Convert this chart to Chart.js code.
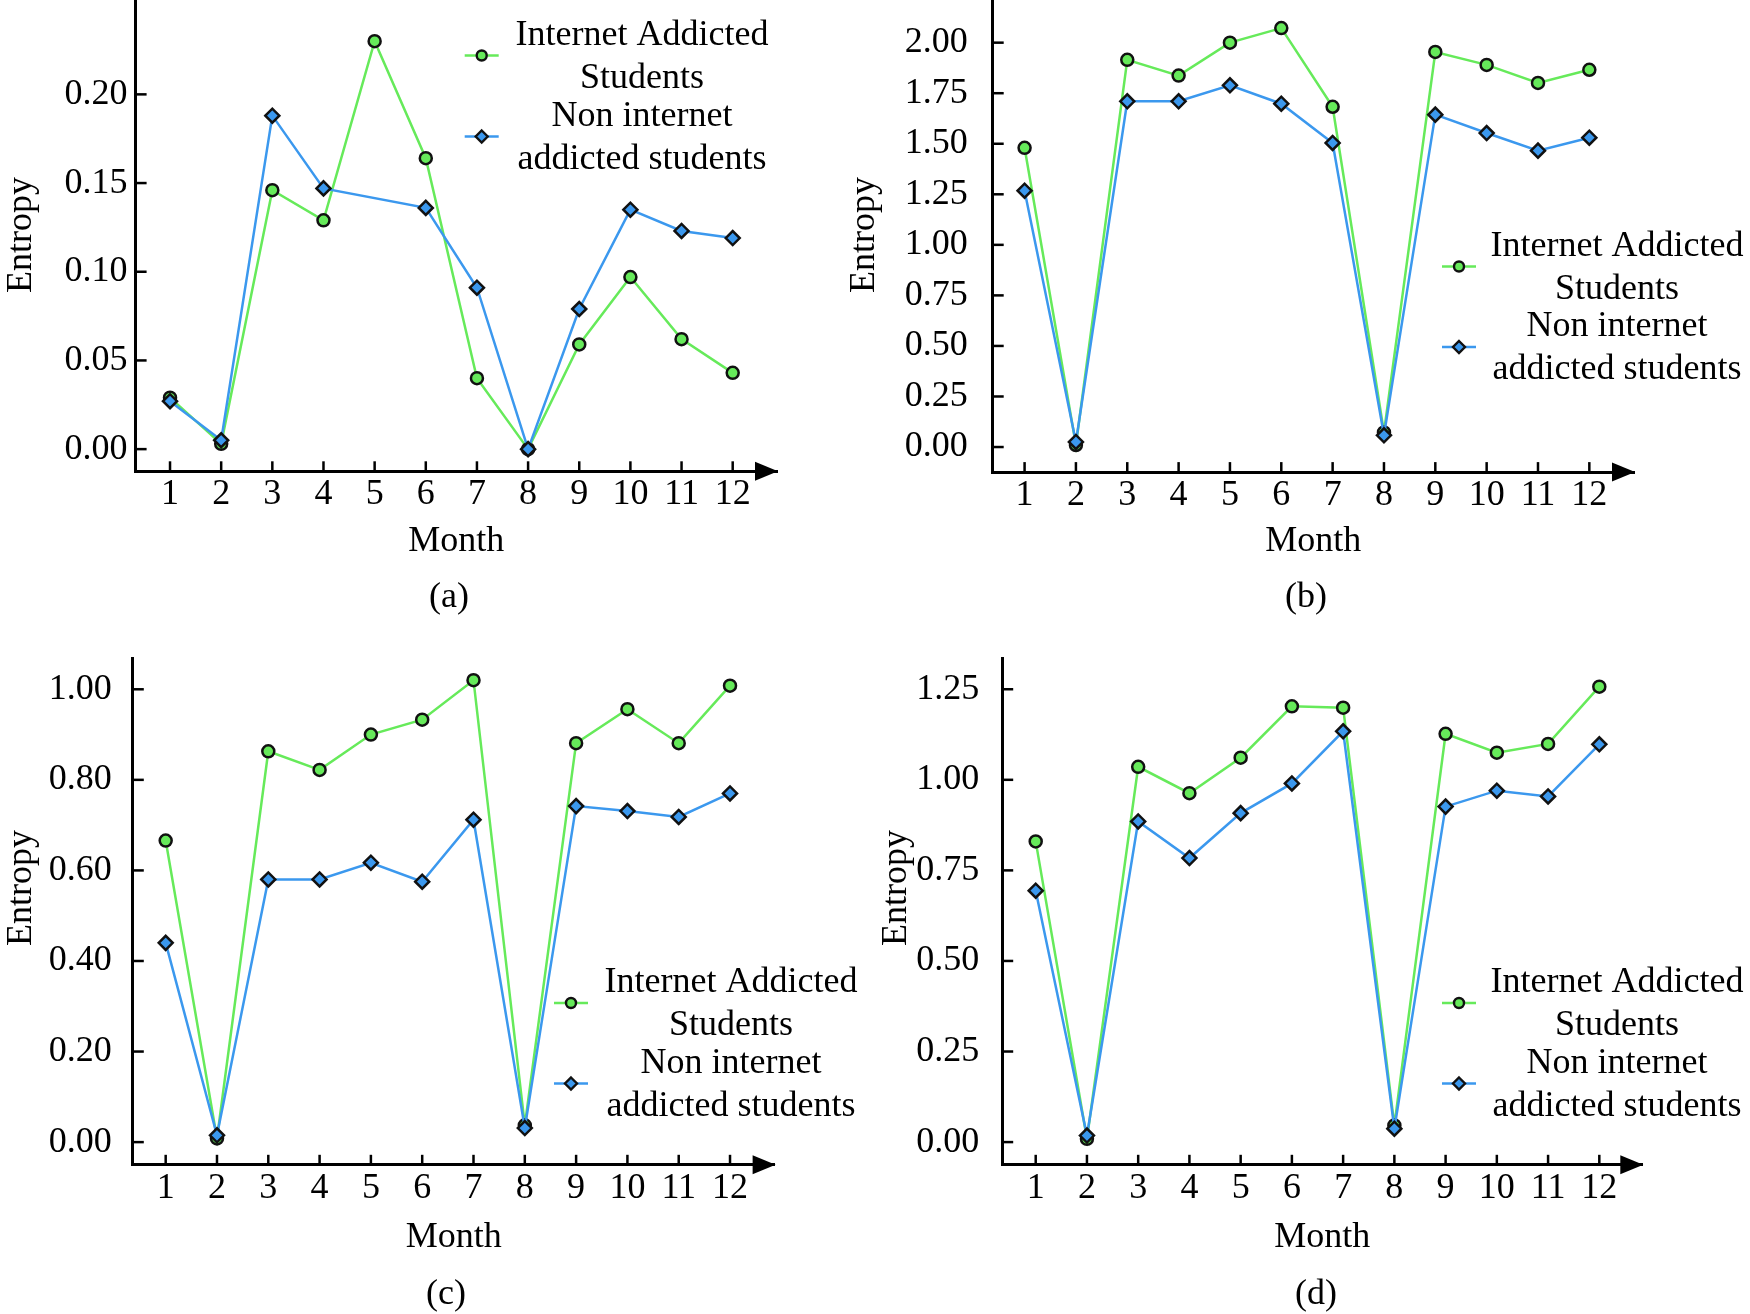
<!DOCTYPE html>
<html>
<head>
<meta charset="utf-8">
<script src="https://cdn.jsdelivr.net/npm/chart.js@4.4.1/dist/chart.umd.min.js"></script>
<style>
html,body{margin:0;padding:0;background:#fff;}
#wrap{position:relative;width:1750px;height:1314px;overflow:hidden;background:#fff;}
canvas{position:absolute;}
.cap{position:absolute;font-family:'Liberation Serif','Times New Roman',serif;font-size:36px;line-height:1;transform:translate(-50%,-50%);white-space:nowrap;color:#000;}
</style>
</head>
<body>
<div id="wrap">
  <canvas id="chartA"></canvas>
  <canvas id="chartB"></canvas>
  <canvas id="chartC"></canvas>
  <canvas id="chartD"></canvas>
  <div class="cap" style="left:449px;top:595px">(a)</div>
  <div class="cap" style="left:1306px;top:595px">(b)</div>
  <div class="cap" style="left:446px;top:1292px">(c)</div>
  <div class="cap" style="left:1316px;top:1292px">(d)</div>
</div>
<script>
// ---------- data ----------
const months = [1, 2, 3, 4, 5, 6, 7, 8, 9, 10, 11, 12];
const seriesNames = ['Internet Addicted Students', 'Non internet addicted students'];
const legendLines = [['Internet Addicted', 'Students'], ['Non internet', 'addicted students']];
const xTitle = 'Month';
const yTitle = 'Entropy';

// (a)
const addictedA    = [0.029, 0.003, 0.146, 0.129, 0.230, 0.164, 0.040, 0.000, 0.059, 0.097, 0.062, 0.043];
const nonAddictedA = [0.027, 0.005, 0.188, 0.147, null, 0.136, 0.091, 0.000, 0.079, 0.135, 0.123, 0.119];
const yTicksA = [0.00, 0.05, 0.10, 0.15, 0.20];
// (b)
const addictedB    = [1.480, 0.010, 1.915, 1.837, 2.000, 2.072, 1.683, 0.072, 1.954, 1.890, 1.801, 1.866];
const nonAddictedB = [1.268, 0.025, 1.710, 1.710, 1.789, 1.698, 1.504, 0.058, 1.644, 1.553, 1.466, 1.530];
const yTicksB = [0.00, 0.25, 0.50, 0.75, 1.00, 1.25, 1.50, 1.75, 2.00];
// (c)
const addictedC    = [0.666, 0.008, 0.863, 0.822, 0.900, 0.933, 1.020, 0.037, 0.881, 0.956, 0.881, 1.008];
const nonAddictedC = [0.440, 0.015, 0.580, 0.580, 0.617, 0.575, 0.712, 0.031, 0.742, 0.731, 0.718, 0.770];
const yTicksC = [0.00, 0.20, 0.40, 0.60, 0.80, 1.00];
// (d)
const addictedD    = [0.830, 0.009, 1.036, 0.963, 1.061, 1.203, 1.199, 0.046, 1.127, 1.075, 1.099, 1.257];
const nonAddictedD = [0.694, 0.018, 0.885, 0.784, 0.908, 0.990, 1.134, 0.037, 0.926, 0.970, 0.954, 1.098];
const yTicksD = [0.00, 0.25, 0.50, 0.75, 1.00, 1.25];

// ---------- style / layout ----------
const GREEN = '#66ea5a';
const BLUE = '#3b98ee';
const FONT = "'Liberation Serif', 'Times New Roman', serif";
const FS = 36;

const decorPlugin = {
  id: 'decor',
  afterDraw(chart) {
    const o = chart.options.plugins.decor;
    if (!o) return;
    const ctx = chart.ctx;
    const ca = chart.chartArea;
    const xs = chart.scales.x, ys = chart.scales.y;
    ctx.save();
    // inward ticks
    ctx.strokeStyle = '#000';
    ctx.lineWidth = 2.5;
    xs.ticks.forEach(t => {
      const px = xs.getPixelForValue(t.value);
      ctx.beginPath(); ctx.moveTo(px, ca.bottom); ctx.lineTo(px, ca.bottom - 10); ctx.stroke();
    });
    ys.ticks.forEach(t => {
      const py = ys.getPixelForValue(t.value);
      ctx.beginPath(); ctx.moveTo(ca.left, py); ctx.lineTo(ca.left + 11, py); ctx.stroke();
    });
    // arrow head on x axis
    ctx.fillStyle = '#000';
    ctx.beginPath();
    ctx.moveTo(ca.right + 1, ca.bottom);
    ctx.lineTo(ca.right - 22, ca.bottom - 9.5);
    ctx.lineTo(ca.right - 22, ca.bottom + 9.5);
    ctx.closePath();
    ctx.fill();
    // y title
    ctx.font = FS + 'px ' + FONT;
    ctx.fillStyle = '#000';
    ctx.save();
    ctx.translate(o.yTitleX, o.yTitleY);
    ctx.rotate(-Math.PI / 2);
    ctx.textAlign = 'center';
    ctx.textBaseline = 'middle';
    ctx.fillText(yTitle, 0, 0);
    ctx.restore();
    // legend
    chart.data.datasets.forEach((ds, i) => {
      const my = o.legendY[i];
      const mx = o.legendX;
      ctx.strokeStyle = ds.borderColor;
      ctx.lineWidth = 2.5;
      ctx.beginPath(); ctx.moveTo(mx - 17, my); ctx.lineTo(mx + 17, my); ctx.stroke();
      ctx.fillStyle = ds.pointBackgroundColor;
      ctx.strokeStyle = '#111';
      ctx.lineWidth = 2.4;
      ctx.beginPath();
      if (ds.pointStyle === 'rectRot') {
        const r = 6;
        ctx.moveTo(mx, my - r); ctx.lineTo(mx + r, my); ctx.lineTo(mx, my + r); ctx.lineTo(mx - r, my); ctx.closePath();
      } else {
        ctx.arc(mx, my, 5, 0, Math.PI * 2);
      }
      ctx.fill(); ctx.stroke();
      ctx.fillStyle = '#000';
      ctx.textAlign = 'center';
      ctx.textBaseline = 'alphabetic';
      const lines = legendLines[i];
      ctx.fillText(lines[0], o.legendTextX, my - 11);
      ctx.fillText(lines[1], o.legendTextX, my + 32);
    });
    ctx.restore();
  }
};

function makeChart(id, cfg) {
  const cv = document.getElementById(id);
  cv.width = cfg.W; cv.height = cfg.H;
  cv.style.left = cfg.L + 'px'; cv.style.top = cfg.T + 'px';
  cv.style.width = cfg.W + 'px'; cv.style.height = cfg.H + 'px';
  const yWidth = cfg.area.left - cfg.L;
  const xHeight = cfg.T + cfg.H - cfg.area.bottom;
  const padRight = cfg.L + cfg.W - cfg.area.right;
  const padTop = cfg.area.top - cfg.T;
  return new Chart(cv, {
    type: 'line',
    data: {
      datasets: [
        {
          label: seriesNames[0],
          data: months.map((m, i) => ({ x: m, y: cfg.green[i] })),
          borderColor: GREEN, backgroundColor: GREEN,
          pointBackgroundColor: GREEN, pointBorderColor: '#111',
          pointStyle: 'circle', pointRadius: 6, pointBorderWidth: 2.5,
          borderWidth: 2.5, tension: 0, order: 1, clip: false, spanGaps: true
        },
        {
          label: seriesNames[1],
          data: months.map((m, i) => ({ x: m, y: cfg.blue[i] })),
          borderColor: BLUE, backgroundColor: BLUE,
          pointBackgroundColor: BLUE, pointBorderColor: '#111',
          pointStyle: 'rectRot', pointRadius: 7, pointBorderWidth: 2.5,
          borderWidth: 2.5, tension: 0, order: 0, clip: false, spanGaps: true
        }
      ]
    },
    options: {
      responsive: false,
      animation: false,
      devicePixelRatio: 1,
      layout: { autoPadding: false, padding: { left: 0, top: padTop, right: padRight, bottom: 0 } },
      plugins: {
        legend: { display: false },
        tooltip: { enabled: false },
        decor: cfg.decor
      },
      scales: {
        x: {
          type: 'linear', position: 'bottom',
          min: cfg.xMin, max: cfg.xMax,
          grid: { display: false, drawTicks: false },
          border: { display: true, color: '#000', width: 3 },
          ticks: { color: '#000', font: { family: FONT, size: FS }, padding: 2, autoSkip: false, maxRotation: 0,
                   callback: v => String(v) },
          title: { display: true, text: xTitle, color: '#000', font: { family: FONT, size: FS, lineHeight: 1.2 },
                   padding: { top: 0, bottom: cfg.monthPad } },
          afterBuildTicks: s => { s.ticks = months.map(v => ({ value: v })); },
          afterFit: s => { s.height = xHeight; s.paddingLeft = 0; s.paddingRight = 0; }
        },
        y: {
          type: 'linear', position: 'left',
          min: cfg.yMin, max: cfg.yMax,
          grid: { display: false, drawTicks: false },
          border: { display: true, color: '#000', width: 3 },
          ticks: { color: '#000', font: { family: FONT, size: FS }, padding: cfg.yPad,
                   callback: v => Number(v).toFixed(2) },
          afterBuildTicks: s => { s.ticks = cfg.yTicks.map(v => ({ value: v })); },
          afterFit: s => { s.width = yWidth; s.paddingTop = 0; s.paddingBottom = 0; }
        }
      }
    },
    plugins: [decorPlugin]
  });
}

makeChart('chartA', {
  L: 0, T: 0, W: 840, H: 657,
  area: { left: 135.6, right: 777, top: 0, bottom: 471.3 },
  xMin: 0.327, xMax: 12.866, yMin: -0.0125, yMax: 0.2532,
  yTicks: yTicksA, yPad: 8, monthPad: 94,
  green: addictedA, blue: nonAddictedA,
  decor: { yTitleX: 22, yTitleY: 235, legendX: 481.7, legendY: [55.5, 136.5], legendTextX: 642 }
});
makeChart('chartB', {
  L: 840, T: 0, W: 910, H: 657,
  area: { left: 992.7, right: 1634, top: 0, bottom: 472.1 },
  xMin: 0.379, xMax: 12.87, yMin: -0.124, yMax: 2.211,
  yTicks: yTicksB, yPad: 25, monthPad: 94,
  green: addictedB, blue: nonAddictedB,
  decor: { yTitleX: 25, yTitleY: 235, legendX: 619, legendY: [266.5, 347], legendTextX: 777 }
});
makeChart('chartC', {
  L: 0, T: 657, W: 890, H: 657,
  area: { left: 132.8, right: 774.6, top: 657, bottom: 1164.8 },
  xMin: 0.359, xMax: 12.869, yMin: -0.0501, yMax: 1.0713,
  yTicks: yTicksC, yPad: 21, monthPad: 55,
  green: addictedC, blue: nonAddictedC,
  decor: { yTitleX: 22, yTitleY: 231, legendX: 571, legendY: [346, 426.5], legendTextX: 731 }
});
makeChart('chartD', {
  L: 840, T: 657, W: 910, H: 657,
  area: { left: 1002.2, right: 1642.3, top: 657, bottom: 1164.8 },
  xMin: 0.346, xMax: 12.839, yMin: -0.0627, yMax: 1.339,
  yTicks: yTicksD, yPad: 23, monthPad: 55,
  green: addictedD, blue: nonAddictedD,
  decor: { yTitleX: 57, yTitleY: 231, legendX: 619, legendY: [346, 426.5], legendTextX: 777 }
});
</script>
</body>
</html>
